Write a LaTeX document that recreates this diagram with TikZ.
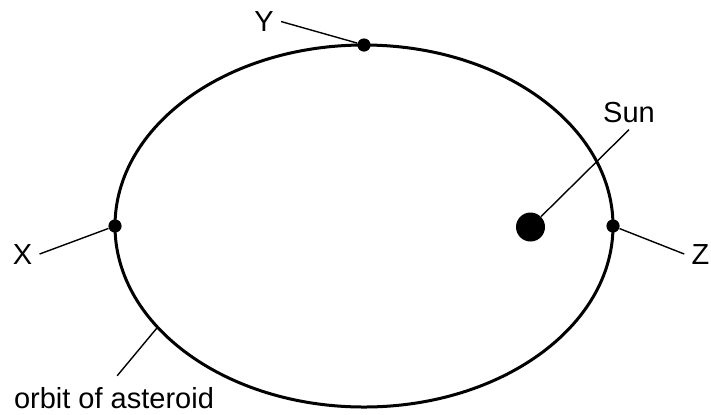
\documentclass[tikz,border=0pt]{standalone}
\usepackage{fontspec}
\setmainfont{Liberation Sans}
\usepackage{tikz}
\usetikzlibrary{calc}

\begin{document}
\begin{tikzpicture}[x=0.5pt, y=-0.5pt,
    font=\fontsize{14.5}{17}\selectfont,
    orbitline/.style={line width=1.5pt},
    leader/.style={line width=0.7pt},
    dot/.style={circle, fill, inner sep=0pt, minimum size=6.6pt},
    lab/.style={inner sep=3.5pt}]

\useasboundingbox (0,0) rectangle (711,414);

% ---- Orbit --------------------------------------------------------------
\coordinate (c) at (364,226);
\draw[orbitline] (c) ellipse [x radius=249, y radius=181];
\coordinate (pOrbit) at ($(c)+(146:249 and 181)$);

% ---- Points on the orbit ------------------------------------------------
\node[dot] (pY) at (364,45) {};
\node[dot] (pX) at (115,226) {};
\node[dot] (pZ) at (613,226) {};

% ---- Sun ----------------------------------------------------------------
\node[circle, fill, inner sep=0pt, minimum size=14.5pt] (sun) at (530.5,227) {};

% ---- Labels -------------------------------------------------------------
\node[lab, anchor=base] (labY) at (264,31.5) {Y};
\node[lab, anchor=base] (labX) at (22.5,264) {X};
\node[lab, anchor=base] (labZ) at (700.5,264) {Z};
\node[lab, anchor=base] (labSun) at (629,122) {Sun};
\node[lab, anchor=base] (labOrbit) at (114,408) {orbit of asteroid};

% ---- Leader lines -------------------------------------------------------
\draw[leader] (labY.east) -- (pY);
\draw[leader] (labX.east) -- (pX);
\draw[leader] (labZ.west) -- (pZ);
\draw[leader] (labSun.south) -- (sun);
\draw[leader, shorten <=2.5pt] (labOrbit.north) -- (pOrbit);

\end{tikzpicture}
\end{document}
